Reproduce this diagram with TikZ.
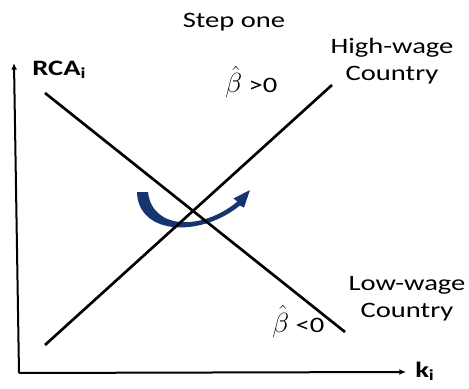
\documentclass[tikz,border=0pt]{standalone}
\usepackage{fontspec}
\setmainfont[FakeStretch=1.3]{Carlito}
\usetikzlibrary{arrows.meta,positioning}
\definecolor{arcblue}{RGB}{22,52,110}
\newcommand{\bhat}{{\fontsize{21}{24}\selectfont$\hat{\beta}$}}

\begin{document}
\begin{tikzpicture}[x=0.75pt,y=-0.75pt,
        lbl/.style={font=\fontsize{16.5}{20}\selectfont,inner sep=0pt},
        axlbl/.style={font=\fontsize{16.5}{20}\selectfont\bfseries,inner sep=0pt},
        axis/.style={line width=1.5pt,-{Latex[length=5pt,width=4.5pt]}},
        curve/.style={line width=2pt}]
        \useasboundingbox (0,0) rectangle (469,389);

        \fill[arcblue] (137,192) .. controls (138,235) and (200,238) .. (240,205.5)
            -- (244,207.5) -- (250,190) -- (233.5,198.5) -- (237.5,201.5)
            .. controls (202,231) and (152,230) .. (148,192) -- cycle;

        \coordinate (o) at (19,373);
        \coordinate (ytop) at (14,63);
        \coordinate (xend) at (406,372);
        \draw[axis] (o) -- (ytop);
        \draw[axis] (o) -- (xend);

        \coordinate (hlow) at (45,345);
        \coordinate (hhigh) at (332,85);
        \coordinate (lhigh) at (45,93);
        \coordinate (llow) at (345,332);
        \draw[curve] (hlow) -- (hhigh);
        \draw[curve] (lhigh) -- (llow);

        \node[lbl,anchor=base] (title) at (234,27) {Step one};
        \node[axlbl,anchor=base west] (rca) at (32,75) {RCA\textsubscript{i}};
        \node[axlbl,anchor=base west] (k) at (415,377) {k\textsubscript{i}};
        \node[lbl,anchor=base,align=center] (high) at (392,80) {High-wage\\Country};
        \node[lbl,anchor=base,align=center] (low) at (407,317) {Low-wage\\Country};
        \node[lbl,anchor=base west] (bpos) at (225,93) {\bhat\ >0};
        \node[lbl,anchor=base west] (bneg) at (272,332) {\bhat\ <0};
\end{tikzpicture}
\end{document}
